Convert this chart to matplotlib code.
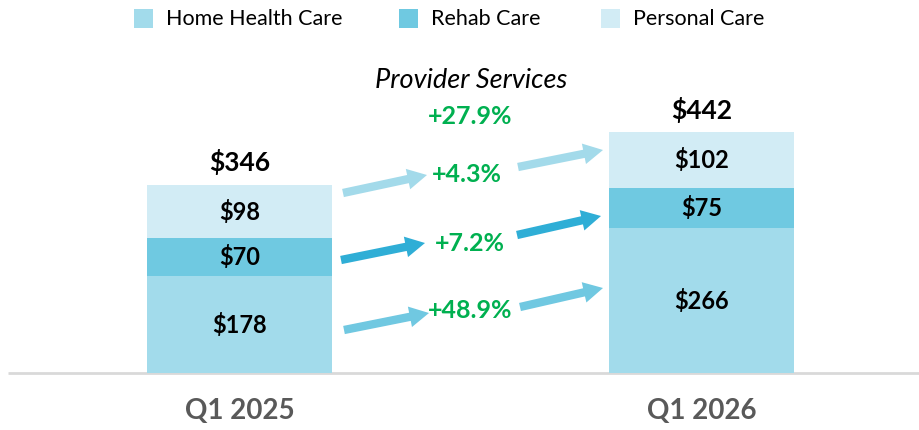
import matplotlib
matplotlib.use("Agg")
import matplotlib.pyplot as plt
from matplotlib.patches import FancyArrowPatch, Rectangle

plt.rcParams["font.family"] = ["Lato", "DejaVu Sans"]

periods = ["Q1 2025", "Q1 2026"]
series = ["Home Health Care", "Rehab Care", "Personal Care"]
home_health = [178, 266]
rehab = [70, 75]
personal = [98, 102]
totals = [346, 442]
growth = {"Home Health Care": "+48.9%", "Rehab Care": "+7.2%", "Personal Care": "+4.3%"}
total_growth = "+27.9%"

colors = {"Home Health Care": "#A2DBEB", "Rehab Care": "#6FC9E1", "Personal Care": "#D2ECF5"}
arrow_colors = {"Home Health Care": "#70C8E1", "Rehab Care": "#2FAED6", "Personal Care": "#A3DAEA"}

W, H = 919, 430
fig = plt.figure(figsize=(W / 100, H / 100), dpi=100)
ax = fig.add_axes([0, 0, 1, 1])

# pixel layout: bar centres 239.5 / 701.5, width 185, baseline at y=373, 0.5434 px per $
px_per_unit_x = 462.0
px_per_dollar = 0.5434
x_lo = -239.5 / px_per_unit_x
x_hi = 1 + (W - 701.5) / px_per_unit_x
ax.set_xlim(x_lo, x_hi)
ax.set_ylim(-(H - 373) / px_per_dollar, 373 / px_per_dollar)
ax.axis("off")

x = [0, 1]
bw = 185 / px_per_unit_x
stack = [home_health, rehab, personal]
bottom = [0, 0]
for name, vals in zip(series, stack):
    ax.bar(x, vals, bw, bottom=bottom, color=colors[name], edgecolor="none", zorder=2)
    for xi, v, b in zip(x, vals, bottom):
        ax.text(xi, b + v / 2, f"${v}", ha="center", va="center", fontsize=17,
                fontweight="bold", color="black", zorder=3)
    bottom = [b + v for b, v in zip(bottom, vals)]

for xi, t in zip(x, totals):
    ax.text(xi, t + 10 / px_per_dollar, f"${t}", ha="center", va="bottom",
            fontsize=19, fontweight="bold", color="black")

# baseline
ax.plot([x_lo + 8 / px_per_unit_x, x_hi], [0, 0], color="#D9D9D9", lw=2, zorder=1,
        solid_capstyle="butt")

for xi, p in zip(x, periods):
    ax.text(xi, -38 / px_per_dollar, p, ha="center", va="center", fontsize=20,
            fontweight="bold", color="#595959")


def fp(px, py):
    return (px / W, 1 - py / H)


# arrows (pixel positions of tail/tip measured from top-left)
arrow_px = {
    "Personal Care": [((343, 193), (427, 175)), ((518, 167), (603, 150))],
    "Rehab Care": [((341, 260), (425, 243)), ((517, 235), (601, 216))],
    "Home Health Care": [((344, 330), (429, 313)), ((520, 307), (603, 288))],
}
for name, segs in arrow_px.items():
    for a, b in segs:
        arr = FancyArrowPatch(fp(*a), fp(*b), transform=fig.transFigure,
                              arrowstyle="simple,head_width=15,head_length=14,tail_width=6",
                              mutation_scale=1, color=arrow_colors[name], lw=0,
                              shrinkA=0, shrinkB=0)
        fig.add_artist(arr)

label_px = {"Personal Care": (467, 174), "Rehab Care": (470, 244), "Home Health Care": (470, 311)}
for name, (lx, ly) in label_px.items():
    fig.text(*fp(lx, ly), growth[name], ha="center", va="center", fontsize=18,
             fontweight="bold", color="#00B050")
fig.text(*fp(470, 117), total_growth, ha="center", va="center", fontsize=18,
         fontweight="bold", color="#00B050")
fig.text(*fp(471, 80), "Provider Services", ha="center", va="center", fontsize=19.5,
         style="italic", color="black")

# legend, laid out by hand
legend_px = [134, 399, 601]
for name, lx in zip(series, legend_px):
    fig.add_artist(Rectangle(fp(lx, 28), 19 / W, 19 / H, transform=fig.transFigure,
                             facecolor=colors[name], edgecolor="none"))
    fig.text(*fp(lx + 32, 19), name, ha="left", va="center", fontsize=15.5, color="black")

fig.savefig("out.png", dpi=100)
